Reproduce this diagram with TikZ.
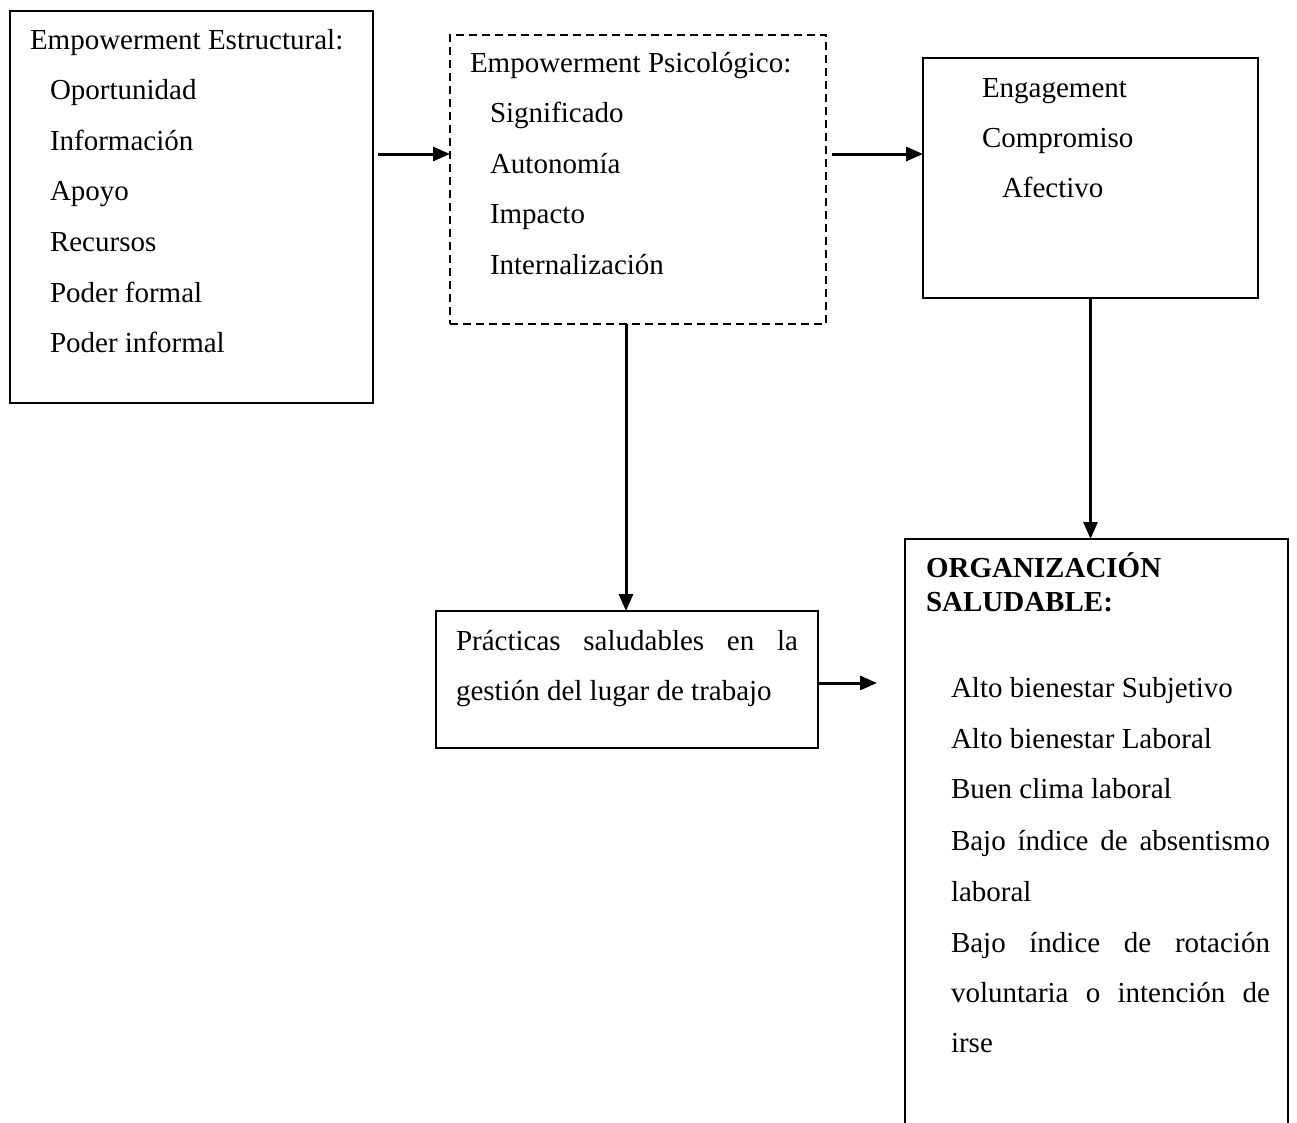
\documentclass[tikz,border=0pt]{standalone}
\usepackage{fontspec}
\setmainfont{Liberation Serif}
\usetikzlibrary{arrows.meta}
\begin{document}
\begin{tikzpicture}[x=1pt,y=-1pt,
  box/.style={draw=black,line width=2.2pt,anchor=north west,inner sep=0pt,outer sep=0pt},
  dbox/.style={box,dash pattern=on 8pt off 5pt},
  txt/.style={anchor=base west,inner sep=0pt,outer sep=0pt,font=\fontsize{29}{29}\selectfont},
  btxt/.style={txt,font=\fontsize{29}{29}\selectfont\bfseries},
  arr/.style={line width=3pt,-{Triangle[length=17pt,width=14pt]}}]
\useasboundingbox (0,0) rectangle (1297,1122);
\clip (0,0) rectangle (1297,1122);
% boxes
\node[box,minimum width=363pt,minimum height=392pt] (b1) at (10,11) {};
\node[dbox,minimum width=376pt,minimum height=289pt] (b2) at (450,35) {};
\node[box,minimum width=335pt,minimum height=240pt] (b3) at (923,58) {};
\node[box,minimum width=382pt,minimum height=137pt] (b4) at (436,611) {};
\node[box,minimum width=383pt,minimum height=620pt] (b5) at (905,539) {};
% box 1 text
\node[txt] (t11) at (30,49) {Empowerment Estructural:};
\node[txt] (t12) at (50,99) {Oportunidad};
\node[txt] (t13) at (50,150) {Información};
\node[txt] (t14) at (50,200) {Apoyo};
\node[txt] (t15) at (50,251) {Recursos};
\node[txt] (t16) at (50,302) {Poder formal};
\node[txt] (t17) at (50,352) {Poder informal};
% box 2 text
\node[txt] (t21) at (470,72) {Empowerment Psicológico:};
\node[txt] (t22) at (490,122) {Significado};
\node[txt] (t23) at (490,173) {Autonomía};
\node[txt] (t24) at (490,223) {Impacto};
\node[txt] (t25) at (490,274) {Internalización};
% box 3 text
\node[txt] (t31) at (982,97) {Engagement};
\node[txt] (t32) at (982,147) {Compromiso};
\node[txt] (t33) at (1002,197) {Afectivo};
% box 4 text
\node[txt] (t41) at (456,650) {\makebox[342pt][s]{Prácticas saludables en la}};
\node[txt] (t42) at (456,700) {gestión del lugar de trabajo};
% box 5 text
\node[btxt] (t51) at (926,577) {ORGANIZACIÓN};
\node[btxt] (t52) at (926,611) {SALUDABLE:};
\node[txt] (t53) at (951,697) {Alto bienestar Subjetivo};
\node[txt] (t54) at (951,748) {Alto bienestar Laboral};
\node[txt] (t55) at (951,798) {Buen clima laboral};
\node[txt] (t56) at (951,850) {\makebox[319pt][s]{Bajo índice de absentismo}};
\node[txt] (t57) at (951,901) {laboral};
\node[txt] (t58) at (951,952) {\makebox[319pt][s]{Bajo índice de rotación}};
\node[txt] (t59) at (951,1002) {\makebox[319pt][s]{voluntaria o intención de}};
\node[txt] (t5a) at (951,1052) {irse};
% connectors
\coordinate (a4) at (877,683);
\draw[arr] ([xshift=5pt]b1.east |- 0,154) -- (b2.west |- 0,154);
\draw[arr] ([xshift=6pt]b2.east |- 0,154) -- (b3.west |- 0,154);
\draw[arr] ([xshift=-1pt]b4.north |- b2.south) -- ([xshift=-1pt]b4.north);
\draw[arr] (b4.east |- a4) -- (a4);
\draw[arr] (b3.south) -- (b3.south |- b5.north);
\end{tikzpicture}
\end{document}
